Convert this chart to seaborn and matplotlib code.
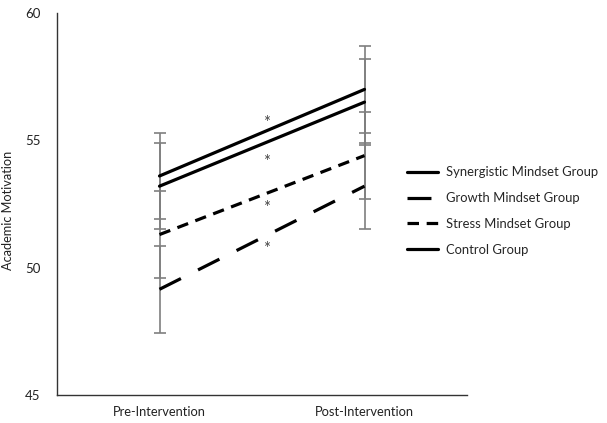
import matplotlib
matplotlib.use("Agg")
import matplotlib.pyplot as plt
import seaborn as sns
import pandas as pd

# ---- data ----
groups = ["Synergistic Mindset Group", "Growth Mindset Group",
          "Stress Mindset Group", "Control Group"]
times = ["Pre-Intervention", "Post-Intervention"]
pre_means = [53.6, 49.15, 51.3, 53.2]
post_means = [57.0, 53.2, 54.4, 56.5]
pre_se = [1.7, 1.7, 1.7, 1.7]
post_se = [1.7, 1.7, 1.7, 1.7]
significant = [True, True, True, True]
yticks = [45, 50, 55, 60]

sns.set_theme(style="white")
plt.rcParams["font.family"] = ["Lato", "DejaVu Sans"]

rows = []
for g, a, b in zip(groups, pre_means, post_means):
    rows.append({"Group": g, "Time": times[0], "Score": a, "t": 0})
    rows.append({"Group": g, "Time": times[1], "Score": b, "t": 1})
df = pd.DataFrame(rows)

fig = plt.figure(figsize=(6.07, 4.23), dpi=100)
ax = fig.add_axes([57 / 607, 28 / 423, 410 / 607, 382 / 423])

# error bars (behind lines)
for g, a, b, sa, sb in zip(groups, pre_means, post_means, pre_se, post_se):
    ax.errorbar([0, 1], [a, b], yerr=[sa, sb], fmt="none", ecolor="#7f7f7f",
                elinewidth=1.2, capsize=4, capthick=1.2, zorder=1)

dash_map = {
    "Synergistic Mindset Group": "",
    "Growth Mindset Group": (7.5, 6.0),
    "Stress Mindset Group": (3.6, 2.4),
    "Control Group": "",
}
sns.lineplot(data=df, x="t", y="Score", hue="Group", style="Group",
             hue_order=groups, style_order=groups,
             palette=["black"] * 4, dashes=dash_map, linewidth=2.3,
             ax=ax, legend=True, zorder=3)

# asterisks for significance at line midpoints
offsets = [0.38, -0.45, -0.5, -0.72]
for a, b, s, off in zip(pre_means, post_means, significant, offsets):
    if s:
        ax.text(0.52, (a + b) / 2 + off, "*", ha="center", va="center",
                fontsize=12, color="#444444")

ax.set_xlim(-0.5, 1.5)
ax.set_ylim(45, 60)
ax.set_xticks([0, 1])
ax.set_xticklabels(times, fontsize=9.3)
ax.set_yticks(yticks)
ax.set_yticklabels([str(v) for v in yticks], fontsize=9.5)
ax.tick_params(axis="both", length=0, colors="#222222")
ax.tick_params(axis="y", pad=12)
ax.tick_params(axis="x", pad=8)
ax.set_xlabel("")
ax.set_ylabel("Academic Motivation", fontsize=9.2, color="#222222")
ax.yaxis.set_label_coords(-0.105, 0.484)

for side in ["top", "right"]:
    ax.spines[side].set_visible(False)
for side in ["left", "bottom"]:
    ax.spines[side].set_color("#333333")
    ax.spines[side].set_linewidth(1.0)

handles, labels = ax.get_legend_handles_labels()
leg = ax.legend(handles, labels, loc="upper left",
                bbox_to_anchor=(0.825, 0.629),
                frameon=False, fontsize=9.4, handlelength=2.4,
                handletextpad=0.6, labelspacing=1.05)
for line in leg.get_lines():
    line.set_linewidth(2.3)

fig.savefig("out.png", dpi=100)
